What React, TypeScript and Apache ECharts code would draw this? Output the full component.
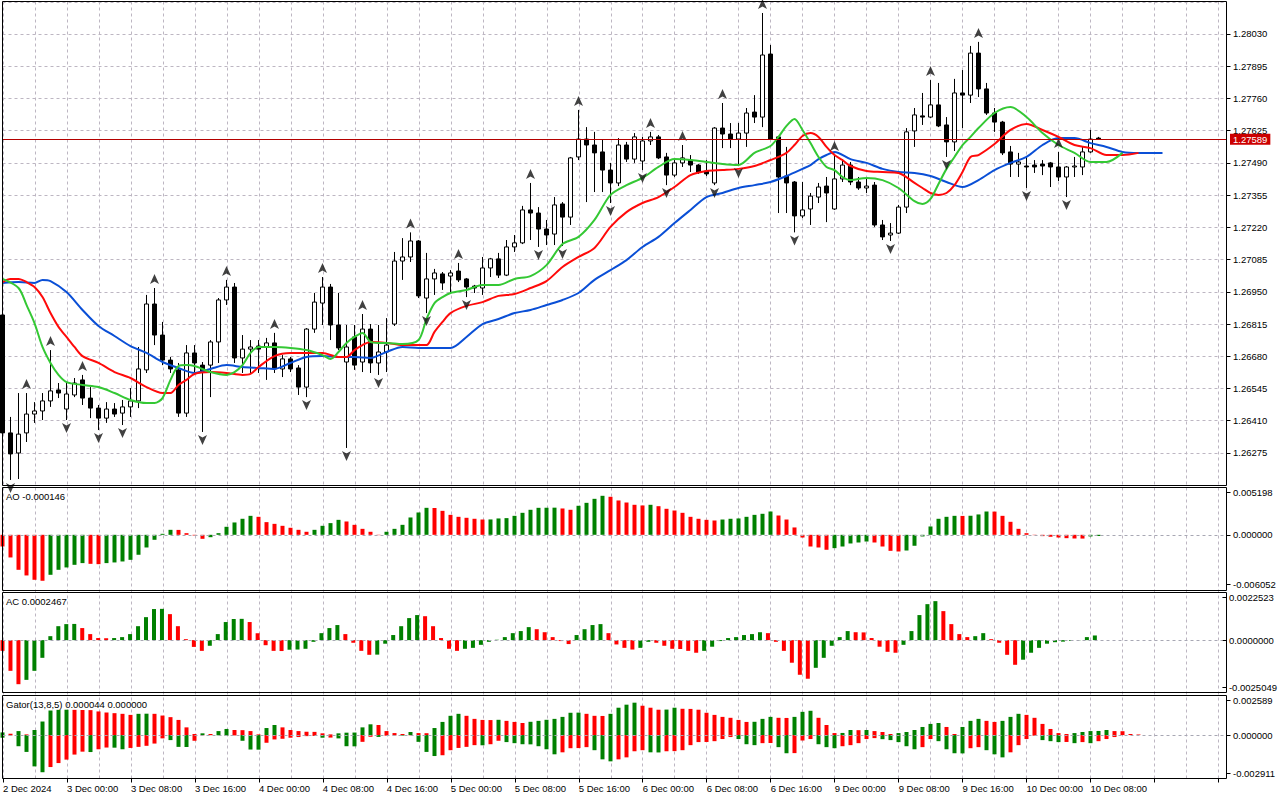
import React, { useEffect, useRef } from "react";
import * as echarts from "echarts";

const SLOT_COUNT = 154;
const FONT = '"Liberation Sans", Arial, sans-serif';
const GRID_COLOR = "#bdb6c2";
const GREEN = "#008000";
const RED = "#ff0000";

const tickLabels = [
  "2 Dec 2024", "3 Dec 00:00", "3 Dec 08:00", "3 Dec 16:00", "4 Dec 00:00", "4 Dec 08:00",
  "4 Dec 16:00", "5 Dec 00:00", "5 Dec 08:00", "5 Dec 16:00", "6 Dec 00:00", "6 Dec 08:00",
  "6 Dec 16:00", "9 Dec 00:00", "9 Dec 08:00", "9 Dec 16:00", "10 Dec 00:00", "10 Dec 08:00",
];

const priceTicks = { min: 1.2614, max: 1.28165, step: 0.00135 };

const opens = [
  1.26853, 1.26359, 1.26275, 1.26359, 1.26438, 1.26451, 1.26493, 1.26539, 1.26459, 1.26518,
  1.26581, 1.26505, 1.26463, 1.26421, 1.26459, 1.26442, 1.26468, 1.26493, 1.26623, 1.26899,
  1.26769, 1.26664, 1.26623, 1.26442, 1.26694, 1.26643, 1.26643, 1.2674, 1.26916, 1.2697,
  1.26673, 1.2671, 1.26723, 1.26719, 1.26736, 1.26627, 1.26669, 1.26631, 1.26551, 1.26794,
  1.26903, 1.2697, 1.26811, 1.26656, 1.26761, 1.26656, 1.26794, 1.26652, 1.26698, 1.26815,
  1.27079, 1.27096, 1.27163, 1.26924, 1.27004, 1.27025, 1.27016, 1.27037, 1.27004, 1.26974,
  1.26966, 1.2705, 1.27088, 1.2702, 1.27138, 1.27155, 1.27293, 1.2728, 1.27213, 1.27192,
  1.27318, 1.27263, 1.27515, 1.2759, 1.27565, 1.27536, 1.2746, 1.27406, 1.27565, 1.27506,
  1.27498, 1.27582, 1.27599, 1.27515, 1.27439, 1.2749, 1.27502, 1.27481, 1.27456, 1.27406,
  1.27636, 1.27611, 1.2759, 1.27615, 1.27703, 1.27682, 1.27946, 1.27599, 1.27435, 1.2741,
  1.27268, 1.27297, 1.27347, 1.27393, 1.27297, 1.27423, 1.27481, 1.2741, 1.27385, 1.27397,
  1.2723, 1.27188, 1.27196, 1.27305, 1.27624, 1.27687, 1.27682, 1.27733, 1.27649, 1.27578,
  1.27783, 1.27774, 1.2795, 1.278, 1.27699, 1.27661, 1.27536, 1.27485, 1.27477, 1.27481,
  1.27485, 1.2749, 1.27473, 1.27431, 1.27473, 1.27473, 1.27536, 1.27594,
];

const highs = [
  1.26865, 1.26426, 1.26526, 1.26526, 1.26488, 1.26526, 1.26706, 1.26568, 1.26572, 1.26589,
  1.26602, 1.26551, 1.26476, 1.26488, 1.26484, 1.26497, 1.26547, 1.26719, 1.26937, 1.26966,
  1.26824, 1.26677, 1.26652, 1.26727, 1.26727, 1.26656, 1.26748, 1.26924, 1.27, 1.26987,
  1.26769, 1.26748, 1.26748, 1.26757, 1.26778, 1.26685, 1.26677, 1.26643, 1.26798, 1.26945,
  1.27012, 1.26983, 1.26945, 1.26811, 1.26811, 1.26857, 1.26815, 1.26811, 1.2684, 1.27117,
  1.27175, 1.27199, 1.27167, 1.27113, 1.27046, 1.27033, 1.27041, 1.27071, 1.27008, 1.26979,
  1.27096, 1.27092, 1.27113, 1.27167, 1.27188, 1.2731, 1.27406, 1.27305, 1.27251, 1.27347,
  1.27326, 1.27515, 1.27712, 1.2764, 1.2762, 1.2759, 1.2749, 1.27594, 1.27578, 1.27615,
  1.27599, 1.2762, 1.27607, 1.27532, 1.27502, 1.27565, 1.27523, 1.27485, 1.27502, 1.2764,
  1.27741, 1.27657, 1.27657, 1.2772, 1.27774, 1.28118, 1.27984, 1.27603, 1.27557, 1.27414,
  1.2741, 1.27364, 1.27406, 1.27431, 1.27523, 1.27506, 1.27494, 1.27431, 1.27431, 1.2741,
  1.27251, 1.27238, 1.27314, 1.27636, 1.2772, 1.27783, 1.27837, 1.27825, 1.27682, 1.27842,
  1.27879, 1.2798, 1.27997, 1.27825, 1.2772, 1.27666, 1.27561, 1.27532, 1.27515, 1.27502,
  1.27502, 1.27494, 1.27536, 1.27477, 1.27515, 1.27557, 1.27628, 1.27599,
];

const lows = [
  1.2635, 1.26162, 1.26166, 1.26321, 1.26401, 1.26413, 1.26468, 1.26505, 1.26413, 1.26509,
  1.26476, 1.26421, 1.26371, 1.26401, 1.26426, 1.26392, 1.26426, 1.26463, 1.2661, 1.26727,
  1.26643, 1.2661, 1.26426, 1.26426, 1.26614, 1.26363, 1.26509, 1.26652, 1.26895, 1.26652,
  1.2661, 1.2661, 1.2661, 1.26581, 1.2661, 1.26593, 1.26614, 1.26518, 1.26509, 1.26778,
  1.26811, 1.26748, 1.26706, 1.26296, 1.26623, 1.26614, 1.2661, 1.26602, 1.26614, 1.26807,
  1.27, 1.27075, 1.26924, 1.26861, 1.26937, 1.26958, 1.26945, 1.26991, 1.26928, 1.26945,
  1.26937, 1.27012, 1.27008, 1.27016, 1.27117, 1.2715, 1.27167, 1.27138, 1.27146, 1.27146,
  1.27142, 1.2723, 1.27502, 1.27326, 1.27368, 1.27368, 1.27322, 1.27393, 1.27494, 1.2749,
  1.2746, 1.27565, 1.27506, 1.27397, 1.27431, 1.27473, 1.27452, 1.27444, 1.27435, 1.27397,
  1.27552, 1.27552, 1.27481, 1.27557, 1.27657, 1.2764, 1.27586, 1.2728, 1.2728, 1.27199,
  1.27259, 1.2723, 1.27322, 1.27242, 1.27293, 1.2741, 1.27397, 1.27377, 1.27364, 1.27222,
  1.27167, 1.27163, 1.27192, 1.2728, 1.27557, 1.27649, 1.27678, 1.2764, 1.27515, 1.2754,
  1.27636, 1.27741, 1.27766, 1.27691, 1.2762, 1.27523, 1.27431, 1.27431, 1.27385, 1.27448,
  1.27439, 1.27389, 1.27414, 1.27347, 1.27431, 1.27439, 1.27532, 1.27586,
];

const closes = [
  1.26359, 1.26271, 1.26354, 1.26438, 1.26451, 1.26493, 1.26535, 1.26526, 1.26522, 1.26568,
  1.26505, 1.26463, 1.26421, 1.26459, 1.26438, 1.26468, 1.26493, 1.26627, 1.26899, 1.26769,
  1.26664, 1.26627, 1.26442, 1.26694, 1.26652, 1.26618, 1.2674, 1.26916, 1.2697, 1.26673,
  1.2671, 1.26719, 1.2671, 1.26736, 1.26627, 1.26669, 1.26627, 1.26551, 1.26794, 1.26907,
  1.2697, 1.26811, 1.26715, 1.26719, 1.26643, 1.26794, 1.26652, 1.26698, 1.26727, 1.27079,
  1.27096, 1.27163, 1.26933, 1.27004, 1.27029, 1.26987, 1.27029, 1.27, 1.2697, 1.26966,
  1.2705, 1.27088, 1.2702, 1.27138, 1.27155, 1.27293, 1.2728, 1.27213, 1.27188, 1.27314,
  1.27263, 1.27511, 1.2759, 1.27565, 1.27532, 1.2746, 1.27406, 1.27565, 1.27506, 1.27599,
  1.27582, 1.27599, 1.27511, 1.27439, 1.2749, 1.27511, 1.27481, 1.27452, 1.27444, 1.27636,
  1.27611, 1.2759, 1.27615, 1.27699, 1.27682, 1.27942, 1.2759, 1.27431, 1.27406, 1.27268,
  1.27293, 1.27351, 1.27389, 1.27364, 1.27423, 1.27481, 1.2741, 1.27385, 1.27393, 1.2723,
  1.2718, 1.27196, 1.27305, 1.2762, 1.27691, 1.27682, 1.27733, 1.27645, 1.27578, 1.27783,
  1.27774, 1.2795, 1.278, 1.27699, 1.27661, 1.27532, 1.27485, 1.27494, 1.27473, 1.27473,
  1.27477, 1.27473, 1.27431, 1.27473, 1.27477, 1.27536, 1.2759, 1.27589,
];

// Alligator lines, sampled [bar slot, price]
const jawPoints = [
  [0, 1.26987], [2, 1.26991], [4, 1.26987], [5, 1.27], [6, 1.26995], [8, 1.26949], [10, 1.26874],
  [12, 1.26807], [14, 1.26765], [16, 1.26723], [18, 1.26694], [20, 1.26656], [22, 1.26631],
  [24, 1.2661], [26, 1.26627], [28, 1.26643], [30, 1.26635], [32, 1.26631], [34, 1.26627],
  [36, 1.26652], [38, 1.26677], [40, 1.26681], [42, 1.26677], [44, 1.26677], [46, 1.26673],
  [48, 1.26698], [50, 1.26719], [52, 1.26715], [54, 1.26715], [56, 1.26715], [58, 1.26761],
  [60, 1.26815], [62, 1.26836], [64, 1.26861], [66, 1.26874], [68, 1.26895], [70, 1.26916],
  [72, 1.26945], [74, 1.27], [76, 1.27041], [78, 1.27083], [80, 1.27138], [82, 1.2718],
  [84, 1.27238], [86, 1.27293], [88, 1.27347], [90, 1.27364], [92, 1.27385], [94, 1.27397],
  [96, 1.2741], [98, 1.27435], [100, 1.27465], [101, 1.27481], [102, 1.27506], [103, 1.27523],
  [104, 1.27536], [106, 1.27506], [108, 1.2749], [110, 1.27465], [112, 1.27452], [114, 1.27448],
  [116, 1.27435], [118, 1.2741], [120, 1.27389], [122, 1.27418], [124, 1.2746], [126, 1.2749],
  [128, 1.27515], [130, 1.27565], [132, 1.27594], [134, 1.27594], [136, 1.27573], [138, 1.27557],
  [140, 1.27536], [142, 1.27532], [145, 1.27532],
];

const teethPoints = [
  [0, 1.26991], [1, 1.27004], [2, 1.27004], [3, 1.26991], [4, 1.2697], [5, 1.26928], [6, 1.26861],
  [7, 1.26803], [8, 1.26761], [9, 1.26719], [10, 1.26681], [12, 1.26652], [14, 1.26614],
  [16, 1.26589], [18, 1.26551], [20, 1.26526], [21, 1.26526], [22, 1.2656], [23, 1.26581],
  [24, 1.26606], [26, 1.26614], [28, 1.2661], [30, 1.26602], [31, 1.26606], [32, 1.26635],
  [34, 1.26681], [36, 1.26694], [38, 1.26694], [40, 1.26694], [42, 1.26677], [43, 1.26677],
  [44, 1.26706], [45, 1.26727], [46, 1.2674], [48, 1.26736], [50, 1.26727], [52, 1.26727],
  [53, 1.26727], [54, 1.26782], [55, 1.26824], [56, 1.26861], [58, 1.26891], [60, 1.26907],
  [62, 1.26933], [64, 1.26941], [66, 1.26966], [68, 1.26995], [70, 1.27054], [72, 1.27096],
  [74, 1.27134], [76, 1.27222], [78, 1.27284], [80, 1.27322], [82, 1.27347], [84, 1.27389],
  [86, 1.27439], [88, 1.27456], [90, 1.2746], [92, 1.27465], [94, 1.27477], [96, 1.27502],
  [97, 1.27515], [98, 1.27532], [99, 1.27565], [100, 1.27603], [101, 1.27615], [102, 1.27599],
  [103, 1.27557], [104, 1.27523], [105, 1.27502], [106, 1.27477], [108, 1.27456], [110, 1.27452],
  [112, 1.27448], [114, 1.27406], [115, 1.27385], [116, 1.27364], [117, 1.27356], [118, 1.27364],
  [119, 1.27397], [120, 1.27452], [121, 1.27515], [122, 1.27523], [124, 1.27569], [126, 1.27628],
  [128, 1.27653], [130, 1.27628], [132, 1.27599], [134, 1.27565], [136, 1.27552], [138, 1.27523],
  [140, 1.27523], [142, 1.27532],
];

const lipsPoints = [
  [0, 1.27004], [2, 1.26966], [3, 1.26895], [4, 1.26819], [5, 1.26719], [6, 1.26652], [7, 1.26602],
  [8, 1.26572], [10, 1.2656], [12, 1.26551], [14, 1.26526], [16, 1.26497], [18, 1.26484],
  [19, 1.26484], [20, 1.26505], [21, 1.26581], [22, 1.26639], [23, 1.26643], [24, 1.26639],
  [26, 1.26614], [28, 1.26602], [29, 1.26614], [30, 1.26643], [31, 1.26694], [32, 1.26719],
  [34, 1.26719], [36, 1.26715], [38, 1.26706], [40, 1.26685], [41, 1.26669], [42, 1.26698],
  [43, 1.26736], [44, 1.26761], [45, 1.26778], [46, 1.2674], [47, 1.26736], [48, 1.26736],
  [50, 1.26731], [52, 1.26748], [53, 1.26836], [54, 1.26903], [55, 1.26928], [56, 1.26945],
  [58, 1.26958], [60, 1.26979], [62, 1.26979], [64, 1.27004], [66, 1.27016], [68, 1.27062],
  [70, 1.2715], [72, 1.2718], [74, 1.27251], [76, 1.27356], [78, 1.27397], [80, 1.27427],
  [82, 1.27473], [84, 1.27506], [86, 1.27502], [88, 1.27494], [90, 1.27485], [92, 1.27481],
  [94, 1.27532], [96, 1.27561], [97, 1.27599], [98, 1.27645], [99, 1.27674], [100, 1.27628],
  [101, 1.27573], [102, 1.27515], [103, 1.27473], [104, 1.2746], [105, 1.27431], [106, 1.27418],
  [108, 1.27427], [110, 1.27418], [112, 1.27385], [114, 1.2733], [115, 1.27318], [116, 1.27339],
  [117, 1.27402], [118, 1.27465], [119, 1.27515], [120, 1.27565], [121, 1.27599], [122, 1.27636],
  [124, 1.27699], [126, 1.27724], [128, 1.27682], [130, 1.27615], [132, 1.27565], [134, 1.27532],
  [136, 1.27494], [138, 1.27494], [140, 1.27532],
];

const upFractals = [3, 6, 10, 19, 28, 34, 40, 45, 51, 57, 66, 72, 81, 85, 90, 95, 104, 116, 122, 132];
const downFractals = [1, 8, 12, 15, 25, 38, 43, 47, 53, 58, 67, 70, 76, 80, 83, 89, 92, 99, 111, 118, 128, 133];

const aoValues = [
  -0.00143, -0.00277, -0.00428, -0.00497, -0.0055, -0.00562, -0.00489, -0.00428, -0.00399, -0.00367,
  -0.00346, -0.00355, -0.00359, -0.00346, -0.00338, -0.00326, -0.00306, -0.00244, -0.00155, -0.00061,
  0.00012, 0.00061, 0.0006, 0.0002, -0.00008, -0.00049, -0.00029, 0.0002, 0.00098, 0.00151,
  0.00196, 0.00232, 0.0022, 0.00155, 0.00134, 0.0011, 0.00086, 0.00061, 0.00037, 0.00061,
  0.0011, 0.00143, 0.00183, 0.00163, 0.00122, 0.00073, 0.00037, -0.00004, 0.00037, 0.00073,
  0.00122, 0.00212, 0.00273, 0.0033, 0.00328, 0.00293, 0.00244, 0.0022, 0.00208, 0.00196,
  0.00187, 0.00188, 0.002, 0.00204, 0.00232, 0.00269, 0.00306, 0.0033, 0.00331, 0.00332,
  0.00322, 0.00306, 0.00355, 0.00391, 0.0044, 0.00477, 0.00465, 0.0042, 0.00395, 0.00367,
  0.00359, 0.00367, 0.0035, 0.00318, 0.00297, 0.00269, 0.0022, 0.00196, 0.00183, 0.00175,
  0.00187, 0.00196, 0.002, 0.0022, 0.00244, 0.00257, 0.00285, 0.00236, 0.00187, 0.0009,
  -0.00033, -0.00143, -0.00155, -0.00183, -0.00163, -0.00143, -0.00106, -0.00094, -0.00082, -0.00094,
  -0.00143, -0.00196, -0.00204, -0.00192, -0.00134, -0.0002, 0.00102, 0.00196, 0.0022, 0.00232,
  0.00231, 0.00233, 0.00249, 0.00285, 0.00284, 0.00232, 0.00159, 0.00073, 0.0002, -0.00004,
  -0.00016, -0.00024, -0.00033, -0.00041, -0.00045, -0.00046, -0.0002, -0.000146,
];

const acValues = [
  -0.00057, -0.00163, -0.00234, -0.00211, -0.00163, -0.00094, 0.00021, 0.00074, 0.00085, 0.00086,
  0.00064, 0.00032, 0.00011, 0.0001, 0.00011, 0.00016, 0.00032, 0.00074, 0.00122, 0.00165,
  0.00166, 0.00138, 0.00074, 0.00005, -0.00036, -0.00057, -0.0003, 0.00032, 0.00096, 0.00112,
  0.00113, 0.00096, 0.00037, -0.00027, -0.00057, -0.00058, -0.00051, -0.0005, -0.00046, -0.00009,
  0.00037, 0.00064, 0.0008, 0.00032, -0.00014, -0.00057, -0.00078, -0.00077, -0.00019, 0.00027,
  0.00074, 0.00117, 0.00133, 0.00127, 0.00074, 0.00011, -0.00046, -0.00057, -0.00046, -0.00041,
  -0.00025, -0.00009, 0.00002, 0.00016, 0.00037, 0.00048, 0.00069, 0.00058, 0.00042, 0.00016,
  -0.00005, -0.00021, 0.00027, 0.00058, 0.0008, 0.00085, 0.00037, -0.00023, -0.00041, -0.0005,
  -0.00041, -0.00009, -0.00014, -0.0003, -0.00046, -0.00047, -0.00057, -0.00067, -0.00057, -0.00035,
  -0.00005, 0.00011, 0.00016, 0.00027, 0.00032, 0.00042, 0.00037, -0.00009, -0.00057, -0.0012,
  -0.00184, -0.00205, -0.00147, -0.00094, -0.0003, 0.00016, 0.00048, 0.00042, 0.00041, 0.00011,
  -0.00035, -0.00062, -0.00067, -0.00025, 0.00048, 0.00133, 0.00191, 0.00207, 0.00154, 0.00085,
  0.00032, 0.00016, 0.00021, 0.00037, 0.00005, -0.00014, -0.00078, -0.00131, -0.00104, -0.00067,
  -0.00041, -0.00019, -0.00011, -0.00008, -0.00004, -0.00001, 0.00016, 0.0002467,
];

const gatorUpper = [
  0.0002, 0.0001, 0.0003, 0.00005, 0.00038, 0.00102, 0.00185, 0.0019, 0.00191, 0.0019,
  0.00189, 0.00188, 0.00178, 0.0017, 0.00165, 0.0016, 0.00152, 0.0016, 0.00161, 0.0016,
  0.00147, 0.00135, 0.00114, 0.00058, 0.00008, 0.00013, 0.00008, 0.0003, 0.00046, 0.00038,
  0.00037, 0.0003, 0.00005, 0.00053, 0.00076, 0.00058, 0.00038, 0.0003, 0.00025, 0.00024,
  0.00013, 0.00005, 0.00013, 0.00018, 0.00019, 0.00058, 0.00081, 0.00076, 0.0003, 0.00015,
  0.00008, 0.00023, 0.00015, 0.00014, 0.00053, 0.00099, 0.00145, 0.0016, 0.00145, 0.00122,
  0.00114, 0.00113, 0.00115, 0.00107, 0.00099, 0.00091, 0.001, 0.00107, 0.00115, 0.00122,
  0.00137, 0.00168, 0.00169, 0.0016, 0.00145, 0.00144, 0.0016, 0.00206, 0.00229, 0.00244,
  0.00221, 0.00206, 0.00191, 0.00192, 0.00206, 0.00198, 0.00197, 0.00191, 0.00168, 0.00152,
  0.00137, 0.0013, 0.00114, 0.00099, 0.001, 0.00122, 0.00137, 0.0013, 0.00129, 0.00137,
  0.00175, 0.00183, 0.0013, 0.00076, 0.00015, 0.00016, 0.00038, 0.00037, 0.00038, 0.0003,
  0.00023, 0.00008, 0.00015, 0.00023, 0.00038, 0.00061, 0.00084, 0.00091, 0.00061, 0.00008,
  0.00061, 0.00107, 0.00122, 0.00107, 0.00099, 0.00107, 0.00137, 0.0016, 0.00152, 0.0013,
  0.00084, 0.00046, 0.00015, 0.00008, 0.00015, 0.00023, 0.0003, 0.00031, 0.00038, 0.0003,
  0.00029, 0.00008, 0.000044,
];

// magnitudes of the lower Gator histogram (drawn below zero)
const gatorLower = [
  0.0002, 0.00003, 0.00084, 0.00127, 0.00236, 0.0028, 0.00241, 0.00211, 0.00185, 0.00147,
  0.00125, 0.00128, 0.00107, 0.00094, 0.00095, 0.00107, 0.00097, 0.00089, 0.00081, 0.00064,
  0.00025, 0.00038, 0.00089, 0.0009, 0.00043, 0.00002, 0.00001, 0.00002, 0.00005, 0.00003,
  0.00043, 0.00109, 0.0011, 0.00058, 0.00033, 0.00028, 0.0002, 0.00015, 0.00008, 0.00007,
  0.0002, 0.00019, 0.00025, 0.00084, 0.00085, 0.00051, 0.00013, 0.00014, 0.00005, 0.00003,
  0.00004, 0.00002, 0.00051, 0.00127, 0.00158, 0.00152, 0.00114, 0.00097, 0.00089, 0.00076,
  0.00077, 0.00069, 0.00043, 0.00053, 0.00061, 0.00069, 0.0007, 0.00084, 0.00107, 0.00145,
  0.0013, 0.00099, 0.00098, 0.00091, 0.00114, 0.00183, 0.00198, 0.00183, 0.00168, 0.00122,
  0.00114, 0.0013, 0.00131, 0.00122, 0.00121, 0.00114, 0.00076, 0.00053, 0.00052, 0.00046,
  0.0003, 0.00015, 0.0003, 0.00069, 0.00076, 0.00061, 0.0006, 0.00091, 0.00137, 0.00136,
  0.00041, 0.0003, 0.00069, 0.00091, 0.00099, 0.00084, 0.00076, 0.00061, 0.0003, 0.00023,
  0.00031, 0.00038, 0.00053, 0.00084, 0.00107, 0.00091, 0.0003, 0.00046, 0.00107, 0.00137,
  0.00138, 0.00099, 0.00091, 0.00114, 0.00145, 0.00168, 0.0013, 0.00076, 0.0003, 0.00005,
  0.00038, 0.00046, 0.00053, 0.00052, 0.00061, 0.00053, 0.00061, 0.00046, 0.0003, 0.00015, 0,
];

const aoRange = { min: -0.006052, max: 0.005198 };
const acRange = { min: -0.0025049, max: 0.0022523 };
const gatorRange = { min: -0.002911, max: 0.002589 };

const titles = {
  ao: "AO -0.000146",
  ac: "AC 0.0002467",
  gator: "Gator(13,8,5) 0.000044 0.000000",
};

const UP_ARROW = "path://M5 0 L10 10 L5 7.5 L0 10 Z";
const DOWN_ARROW = "path://M0 0 L5 2.5 L10 0 L5 10 Z";

function trendBars(values: number[], firstColor: string, magnitude = false, sign = 1) {
  return values.map((v, i) => {
    const cur = magnitude ? Math.abs(v) : v;
    const prev = i === 0 ? null : magnitude ? Math.abs(values[i - 1]) : values[i - 1];
    const color = prev === null ? firstColor : cur > prev ? GREEN : RED;
    return { value: sign * v, itemStyle: { color } };
  });
}

function indicatorYAxis(gridIndex: number, range: { min: number; max: number }, digits: number) {
  return {
    type: "value",
    gridIndex,
    position: "right",
    min: range.min,
    max: range.max,
    interval: -range.min,
    splitLine: { show: false },
    axisLine: { show: false },
    axisTick: { show: true, length: 4, lineStyle: { color: "#000" } },
    axisLabel: {
      margin: 6.5,
      fontSize: 9.5,
      color: "#000",
      fontFamily: FONT,
      showMinLabel: true,
      showMaxLabel: true,
      formatter: (v: number) => (Math.abs(v) < 1e-12 ? 0 : v).toFixed(digits),
    },
  };
}

const zeroLine = {
  silent: true,
  symbol: ["none", "none"],
  precision: 8,
  label: { show: false },
  lineStyle: { color: "#a8a8b4", type: [3, 3], width: 1 },
  data: [{ yAxis: 0 }],
};

function buildOption() {
  const categories = Array.from({ length: SLOT_COUNT }, (_, i) => String(i));
  const candles = opens.map((o, i) => [o, closes[i], lows[i], highs[i]]);
  const lastClose = closes[closes.length - 1];
  const gridBase = { left: 2.5, width: 1224 };

  const hiddenX = (gridIndex: number) => ({
    type: "category",
    gridIndex,
    data: categories,
    boundaryGap: false,
    show: false,
  });

  const frame = (y: number, h: number) => ({
    type: "rect",
    silent: true,
    z: 100,
    shape: { x: 2.5, y, width: 1224, height: h },
    style: { fill: "none", stroke: "#000", lineWidth: 1 },
  });

  const title = (text: string, y: number) => ({
    type: "text",
    silent: true,
    z: 101,
    x: 6,
    y,
    style: { text, fill: "#000", fontSize: 9.5, fontFamily: FONT, verticalAlign: "middle" },
  });

  const priceLine = {
    silent: true,
    symbol: ["none", "none"],
    precision: 6,
    lineStyle: { color: "#b40000", width: 1, type: "solid" },
    label: {
      show: true,
      position: "end",
      distance: 3.5,
      formatter: lastClose.toFixed(5),
      color: "#ffffff",
      backgroundColor: "#cc0000",
      padding: [1, 3, 0, 3],
      fontSize: 9.5,
      lineHeight: 10,
      fontFamily: FONT,
    },
    data: [{ yAxis: lastClose }],
  };

  return {
    animation: false,
    backgroundColor: "#ffffff",
    textStyle: { fontFamily: FONT },
    grid: [
      { ...gridBase, top: 1.77, height: 483.43 },
      { ...gridBase, top: 492.3, height: 92 },
      { ...gridBase, top: 597.7, height: 89.6 },
      { ...gridBase, top: 700.7, height: 73 },
      { ...gridBase, top: 1.5, height: 777 },
    ],
    xAxis: [
      hiddenX(0),
      hiddenX(1),
      hiddenX(2),
      hiddenX(3),
      {
        type: "category",
        gridIndex: 4,
        data: categories,
        boundaryGap: false,
        axisLine: { show: false },
        axisTick: { show: true, interval: 7, length: 4, lineStyle: { color: "#000" } },
        axisLabel: {
          interval: 7,
          align: "left",
          margin: 5,
          fontSize: 9.5,
          color: "#000",
          fontFamily: FONT,
          formatter: (_v: string, index: number) =>
            index % 8 === 0 && tickLabels[index / 8] ? tickLabels[index / 8] : "",
        },
        splitLine: { show: true, interval: 3, lineStyle: { color: GRID_COLOR, type: [3, 3], width: 1 } },
      },
    ],
    yAxis: [
      {
        type: "value",
        gridIndex: 0,
        position: "right",
        min: priceTicks.min,
        max: priceTicks.max,
        interval: priceTicks.step,
        splitLine: { show: true, lineStyle: { color: GRID_COLOR, type: [3, 3], width: 1 } },
        axisLine: { show: false },
        axisTick: { show: true, length: 4, lineStyle: { color: "#000" } },
        axisLabel: {
          margin: 6.5,
          fontSize: 9.5,
          color: "#000",
          fontFamily: FONT,
          showMinLabel: false,
          showMaxLabel: false,
          formatter: (v: number) => v.toFixed(5),
        },
      },
      indicatorYAxis(1, aoRange, 6),
      indicatorYAxis(2, acRange, 7),
      indicatorYAxis(3, gatorRange, 6),
      { type: "value", gridIndex: 4, show: false, min: 0, max: 1 },
    ],
    graphic: [
      frame(1.5, 484),
      frame(487.5, 103),
      frame(592.5, 100),
      frame(695.5, 83),
      title(titles.ao, 496.5),
      title(titles.ac, 601.5),
      title(titles.gator, 704.8),
    ],
    series: [
      { type: "line", xAxisIndex: 4, yAxisIndex: 4, data: [], silent: true },
      {
        type: "candlestick",
        xAxisIndex: 0,
        yAxisIndex: 0,
        data: candles,
        barWidth: 5,
        z: 2,
        itemStyle: {
          color: "#ffffff",
          color0: "#000000",
          borderColor: "#000000",
          borderColor0: "#000000",
          borderWidth: 1,
        },
      },
      {
        type: "line",
        name: "Jaw",
        xAxisIndex: 0,
        yAxisIndex: 0,
        data: jawPoints,
        smooth: 0.3,
        showSymbol: false,
        z: 3,
        lineStyle: { color: "#0a4fd6", width: 2 },
        markLine: priceLine,
      },
      {
        type: "line",
        name: "Teeth",
        xAxisIndex: 0,
        yAxisIndex: 0,
        data: teethPoints,
        smooth: 0.3,
        showSymbol: false,
        z: 3,
        lineStyle: { color: "#ff0a0a", width: 2 },
      },
      {
        type: "line",
        name: "Lips",
        xAxisIndex: 0,
        yAxisIndex: 0,
        data: lipsPoints,
        smooth: 0.3,
        showSymbol: false,
        z: 3,
        lineStyle: { color: "#34c834", width: 2 },
      },
      {
        type: "scatter",
        xAxisIndex: 0,
        yAxisIndex: 0,
        data: upFractals.map((k) => [k, highs[k]]),
        symbol: UP_ARROW,
        symbolSize: [9, 10],
        symbolOffset: [0, -9],
        z: 4,
        itemStyle: { color: "#111111" },
      },
      {
        type: "scatter",
        xAxisIndex: 0,
        yAxisIndex: 0,
        data: downFractals.map((k) => [k, lows[k]]),
        symbol: DOWN_ARROW,
        symbolSize: [9, 10],
        symbolOffset: [0, 8],
        z: 4,
        itemStyle: { color: "#111111" },
      },
      {
        type: "bar",
        xAxisIndex: 1,
        yAxisIndex: 1,
        data: trendBars(aoValues, RED),
        barWidth: 4,
        markLine: zeroLine,
      },
      {
        type: "bar",
        xAxisIndex: 2,
        yAxisIndex: 2,
        data: trendBars(acValues, RED),
        barWidth: 4,
        markLine: zeroLine,
      },
      {
        type: "bar",
        xAxisIndex: 3,
        yAxisIndex: 3,
        data: trendBars(gatorUpper, GREEN),
        barWidth: 4,
        barGap: "-100%",
        markLine: zeroLine,
      },
      {
        type: "bar",
        xAxisIndex: 3,
        yAxisIndex: 3,
        data: trendBars(gatorLower, GREEN, true, -1),
        barWidth: 4,
        barGap: "-100%",
      },
    ],
  };
}

export default function App() {
  const ref = useRef<HTMLDivElement>(null);
  useEffect(() => {
    if (!ref.current) return;
    const chart = echarts.init(ref.current, undefined, { renderer: "svg" });
    chart.setOption(buildOption() as any);
    return () => chart.dispose();
  }, []);
  return (
    <div
      ref={ref}
      style={{ position: "absolute", left: 0, top: 0, width: 1280, height: 800, background: "#fff" }}
    />
  );
}
